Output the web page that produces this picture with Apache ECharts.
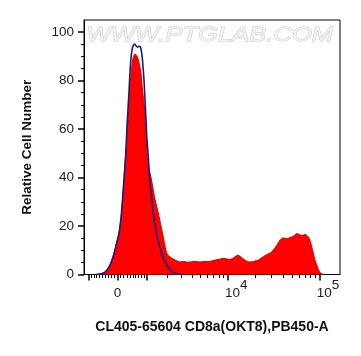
<!DOCTYPE html>
<html><head><meta charset="utf-8">
<script src="https://cdn.jsdelivr.net/npm/echarts@6/dist/echarts.min.js"></script>
<style>html,body{margin:0;padding:0;background:#fff}#c{width:361px;height:356px}</style>
</head><body><div id="c"></div>
<script>
// Histogram positions are in display channel units (0..256 across the plot)
const sampleX = [12,16,20,23,26,29,32,35,37,38.5,40,41.7,43,44.3,45.5,47,48.3,49.5,51,52.5,54,55.5,57,58.5,60.5,61.5,63,65,67.5,71,74.3,77,79.3,81,82.7,85,87.7,92,96,100,103,107,111,116,121,126,129,134,139,143,146,150,154,157,161,165,168,171,174,178,181,184,187,190,193,196,199,203,206,209,211,213,215,218,221,223,225,227,229,231,233,235,237,240];
const sampleY = [0,0.2,0.8,1.9,3.9,7.2,12.2,17.1,23.3,30.7,39.5,49.3,57,68.7,75.5,82.3,87.5,90.0,91.0,90.5,89.0,86.5,83.0,76.5,68.7,63.7,49.3,44,39,31,25.4,20,15.6,11.8,8.9,7.6,6.8,5.8,5.2,5.4,5.1,5.2,5.4,5.2,5.4,5.4,5.8,6.2,6.6,6.4,6.2,7.0,8.0,7.2,5.9,5.2,5.2,5.6,5.9,7.0,7.8,8.5,9.1,10.5,12.2,14.2,15.1,14.8,15.3,15.7,16.3,16.9,16.5,16.1,16.5,16.1,15.1,12.6,9.3,6.0,3.5,1.6,0.4,0];
const controlX = [12,16,20,23,26,29,32,35,37,38.5,40,41.7,43,45,46,47,48,49,50.5,52,53.5,55,56.5,57.5,58.5,60,61,62,63,64.5,65.5,67.5,69.3,71.5,74,77,80,84,88,92,97];
const controlY = [0,0.2,0.6,1.9,3.9,7.2,11.8,17.1,23.3,30.7,39.5,49.3,61,75.3,83.5,89.3,92.6,94.2,95.1,94.4,93.8,94.2,93.8,91.8,88.5,80.2,72,63.7,55.5,47.2,40,32,25.4,19.2,14.2,9.7,6.0,3.1,1.2,0.4,0];

const yTickValues = [0,20,40,60,80,100];
const yMinorTickValues = [5,10,15,25,30,35,45,50,55,65,70,75,85,90,95];
const xLabelRaw = [0, 10000, 100000];
const xLabelTexts = ['0', '10^4', '10^5'];
const xMajorRaw = [-1000, 0, 1000, 10000, 100000];

// biexponential-like display transform (raw fluorescence -> display channel)
function T(v){ return 33.5 + 39.95 * Math.asinh(v / 1274); }
const xMinorRaw = [];
for (let k = 1; k <= 9; k++) { xMinorRaw.push(-k*100); xMinorRaw.push(k*100); }
for (let k = 2; k <= 9; k++) { xMinorRaw.push(k*1000); xMinorRaw.push(k*10000); }

const xLabelPos = xLabelRaw.map(T);
const fmtX = function(val){
  let best = 0, d = Infinity;
  xLabelPos.forEach((p,i)=>{ if (Math.abs(p-val)<d){d=Math.abs(p-val);best=i;} });
  const t = xLabelTexts[best];
  if (t.indexOf('^') < 0) return '{z|' + t + '}';
  const parts = t.split('^');
  return '{a|' + parts[0] + '}{s|' + parts[1] + '}';
};

const font = 'Liberation Sans, Arial, sans-serif';
const chart = echarts.init(document.getElementById('c'), null, {renderer:'canvas'});
chart.setOption({
  animation: false,
  backgroundColor: '#fff',
  grid: {left: 84, right: 21, top: 20, bottom: 81.5, show: true, borderColor: '#000', borderWidth: 1, containLabel: false},
  xAxis: [{
    type: 'value', min: 0, max: 256, position: 'bottom',
    name: 'CL405-65604 CD8a(OKT8),PB450-A', nameLocation: 'middle', nameGap: 46,
    nameTextStyle: {fontFamily: font, fontWeight: 'bold', fontSize: 14, color: '#111'},
    axisLine: {show: true, lineStyle: {color: '#000', width: 1}},
    axisTick: {show: true, customValues: xMajorRaw.map(T), length: 6, lineStyle: {color: '#000', width: 1.5}},
    axisLabel: {show: true, customValues: xLabelPos, formatter: fmtX, margin: 4,
      rich: {
        z: {fontFamily: font, fontSize: 13.5, color: '#222', padding: [8,0,8,0]},
        a: {fontFamily: font, fontSize: 13.5, color: '#222', padding: [0,0,0,17]},
        s: {fontFamily: font, fontSize: 13.5, color: '#222', padding: [0,0,16,0]}
      }},
    splitLine: {show: false}
  }, {
    type: 'value', min: 0, max: 256, position: 'bottom',
    axisLine: {show: false},
    axisTick: {show: true, customValues: xMinorRaw.map(T), length: 3.5, lineStyle: {color: '#000', width: 1}},
    axisLabel: {show: false},
    splitLine: {show: false}
  }],
  yAxis: [{
    type: 'value', min: 0, max: 105, position: 'left',
    name: 'Relative Cell Number', nameLocation: 'middle', nameGap: 50, nameRotate: 90,
    nameTextStyle: {fontFamily: font, fontWeight: 'bold', fontSize: 13.5, color: '#111'},
    axisLine: {show: true, lineStyle: {color: '#000', width: 1}},
    axisTick: {show: true, customValues: yTickValues, length: 6, lineStyle: {color: '#000', width: 1.5}},
    axisLabel: {show: true, customValues: yTickValues, margin: 10, fontFamily: font, fontSize: 13.5, color: '#222'},
    splitLine: {show: false}
  }, {
    type: 'value', min: 0, max: 105, position: 'left',
    axisLine: {show: false},
    axisTick: {show: true, customValues: yMinorTickValues, length: 3, lineStyle: {color: '#000', width: 1}},
    axisLabel: {show: false},
    splitLine: {show: false}
  }],
  graphic: [{
    type: 'text', left: 86, top: 24, z: 1, scaleX: 1.22,
    style: {text: 'WWW.PTGLAB.COM', fontFamily: font, fontStyle: 'italic', fontSize: 21,
      fill: '#f3f3f3', stroke: '#c4c4c4', lineWidth: 0.8}
  }],
  series: [{
    type: 'line', xAxisIndex: 0, yAxisIndex: 0, showSymbol: false, symbol: 'none', smooth: 0.2,
    data: sampleX.map((x,i)=>[x, sampleY[i]]),
    lineStyle: {color: '#d00000', width: 1},
    areaStyle: {color: '#ff0000', opacity: 1},
    z: 2
  }, {
    type: 'line', xAxisIndex: 0, yAxisIndex: 0, showSymbol: false, symbol: 'none', smooth: 0.2,
    data: controlX.map((x,i)=>[x, controlY[i]]),
    lineStyle: {color: '#1e1b78', width: 1.6},
    z: 3
  }]
});
</script>
</body></html>
